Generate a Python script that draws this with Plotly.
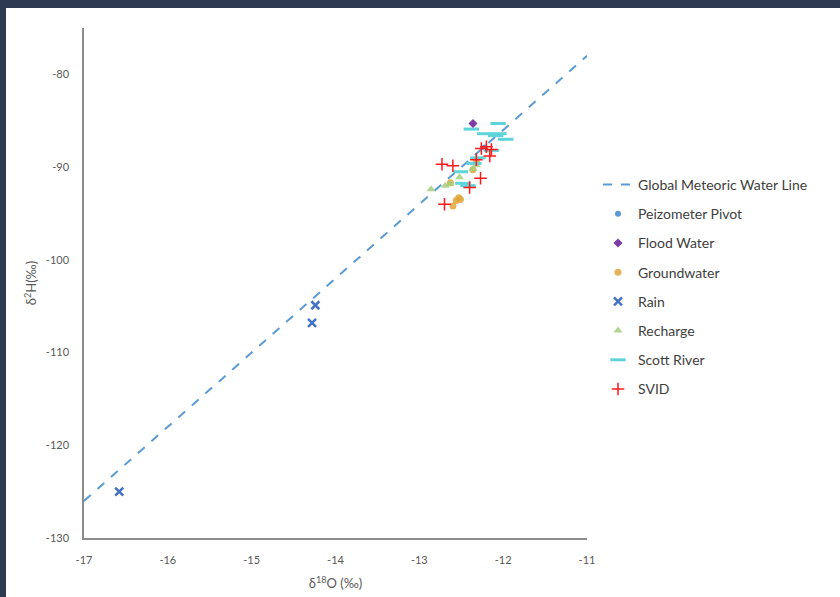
import plotly.graph_objects as go

# Global Meteoric Water Line endpoints (d2H = 8*d18O + 10)
gmwl_x = [-17, -11]
gmwl_y = [-126, -78]

pivot_x = [-12.22]
pivot_y = [-87.9]

flood_x = [-12.36]
flood_y = [-85.3]

ground_x = [-12.32, -12.53, -12.51, -12.56, -12.60, -12.63, -12.36]
ground_y = [-89.4, -93.3, -93.5, -93.6, -94.2, -91.7, -90.3]

rain_x = [-16.58, -14.24, -14.28]
rain_y = [-125.0, -104.9, -106.8]

recharge_x = [-12.86, -12.69, -12.63, -12.52, -12.36, -12.32]
recharge_y = [-92.4, -92.0, -91.8, -91.1, -90.2, -89.8]

scott_x = [-12.38, -12.06, -12.22, -12.05, -12.09, -11.97, -12.51, -12.48, -12.42, -12.30, -12.14, -12.35]
scott_y = [-85.9, -85.3, -86.4, -86.4, -86.6, -87.0, -90.5, -91.75, -92.0, -89.0, -88.2, -89.6]

svid_x = [-12.20, -12.26, -12.14, -12.16, -12.32, -12.73, -12.60, -12.27, -12.40, -12.70]
svid_y = [-87.8, -88.0, -88.1, -88.8, -89.2, -89.7, -89.85, -91.2, -92.2, -94.0]

fig = go.Figure()
fig.add_trace(go.Scatter(x=gmwl_x, y=gmwl_y, mode="lines", name="Global Meteoric Water Line",
                         line=dict(color="#5B9BD5", width=2, dash="dash"), legendrank=1, legendgroup="g1"))
fig.add_trace(go.Scatter(x=pivot_x, y=pivot_y, mode="markers", name="Peizometer Pivot",
                         marker=dict(symbol="circle", size=6, color="#5B9BD5"), legendrank=2, legendgroup="g2"))
fig.add_trace(go.Scatter(x=ground_x, y=ground_y, mode="markers", name="Groundwater",
                         marker=dict(symbol="circle", size=7, color="#E0A53A", opacity=0.85),
                         legendrank=4, legendgroup="g4"))
fig.add_trace(go.Scatter(x=recharge_x, y=recharge_y, mode="markers", name="Recharge",
                         marker=dict(symbol="triangle-up", size=8, color="#A5CF7F", opacity=0.85),
                         legendrank=6, legendgroup="g6"))
fig.add_trace(go.Scatter(x=scott_x, y=scott_y, mode="markers", name="Scott River",
                         marker=dict(symbol="line-ew-open", size=11, color="#5ED4DA",
                                     line=dict(color="#5ED4DA", width=3)), legendrank=7, legendgroup="g7"))
fig.add_trace(go.Scatter(x=flood_x, y=flood_y, mode="markers", name="Flood Water",
                         marker=dict(symbol="diamond", size=7, color="#7E3BA6"), legendrank=3, legendgroup="g3"))
fig.add_trace(go.Scatter(x=rain_x, y=rain_y, mode="markers", name="Rain",
                         marker=dict(symbol="x-thin-open", size=8, color="#4472C4",
                                     line=dict(color="#4472C4", width=2.5)), legendrank=5, legendgroup="g5"))
fig.add_trace(go.Scatter(x=svid_x, y=svid_y, mode="markers", name="SVID",
                         marker=dict(symbol="cross-thin-open", size=9, color="#FF1A1A",
                                     line=dict(color="#FF1A1A", width=1.5)), legendrank=8, legendgroup="g8"))

# page offset produced by the dark frame (top/left) of the original screenshot
OX, OY = 6, 8
W, H = 840 - OX, 597 - OY
ml, mr, mt, mb = 84 - OX, 253, 28 - OY, 59
pw, ph = W - ml - mr, H - mt - mb


def px2paper_x(px):
    return (px - OX - ml) / pw


def py2paper_y(py):
    return (597 - mb - py) / ph


fig.update_layout(
    width=W, height=H,
    margin=dict(l=ml, r=mr, t=mt, b=mb),
    paper_bgcolor="white", plot_bgcolor="white",
    font=dict(family="Lato, Open Sans, sans-serif", color="#595959"),
    legend=dict(x=px2paper_x(598), y=py2paper_y(169), xanchor="left", yanchor="top",
                font=dict(size=14, color="#404040"), tracegroupgap=8, bgcolor="rgba(0,0,0,0)",
                itemwidth=30, traceorder="grouped"),
    xaxis=dict(range=[-17, -11], tickvals=[-17, -16, -15, -14, -13, -12, -11],
               ticktext=["-17", "-16", "-15", "-14", "-13", "-12", "-11"],
               showgrid=False, zeroline=False, showline=True, linecolor="#8C8C8C", linewidth=1.5,
               ticks="outside", ticklen=11, tickcolor="rgba(0,0,0,0)", automargin=False,
               tickfont=dict(size=11, color="#595959", family="Liberation Sans Narrow, Lato"),
               title=dict(text="δ<sup>18</sup>O (‰)", font=dict(size=13, color="#595959"), standoff=14)),
    yaxis=dict(range=[-130, -75], tickvals=[-130, -120, -110, -100, -90, -80],
               ticktext=["-130", "-120", "-110", "-100", "-90", "-80"],
               showgrid=False, zeroline=False, showline=True, linecolor="#8C8C8C", linewidth=1.5,
               ticks="outside", ticklen=11, tickcolor="rgba(0,0,0,0)", automargin=False,
               tickfont=dict(size=11, color="#595959", family="Liberation Sans Narrow, Lato"),
               title=dict(text="δ<sup>2</sup>H(‰)", font=dict(size=13, color="#595959"), standoff=6)),
)

post = (
    "document.body.style.margin='0';"
    "document.body.style.background='#2E3A4F';"
    "document.body.style.paddingTop='%dpx';"
    "document.body.style.paddingLeft='%dpx';"
    "document.body.style.overflow='hidden';"
) % (OY, OX)

fig.write_html("out.html", config={"displayModeBar": False}, post_script=post)
